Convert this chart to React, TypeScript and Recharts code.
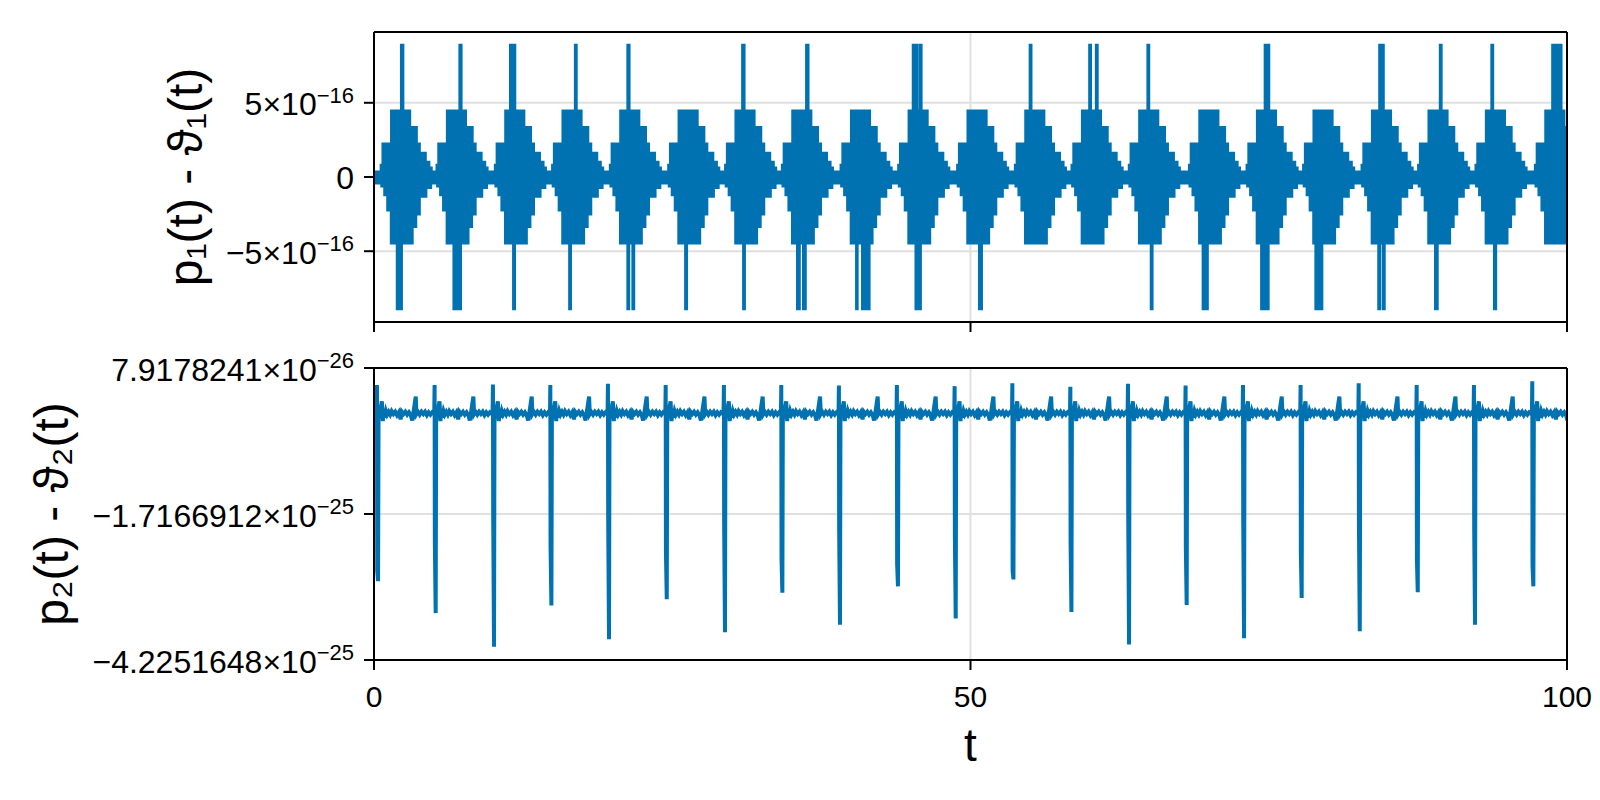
import { Area, CartesianGrid, ComposedChart, Label, Line, XAxis, YAxis } from "recharts"

const FONT = "'Liberation Sans', Arial, sans-serif"
const BLUE = "#0072B2"
const GRID = "#e0e0e0"

const tTicks = [0, 50, 100]

// top panel, values in units of 1e-16
const topTicks = [-5, 0, 5]
const topTickText = ["−5×10", "0", "5×10"]
const topTickExp = ["−16", "", "−16"]
const topDomain = [-9.77, 9.77]

// centre of every burst (t)
const burstCenters = [
  2.25, 6.93, 11.82, 16.62, 21.46, 26.35, 31.12, 35.88, 40.8, 45.63, 50.57,
  55.41, 60.16, 64.96, 70.0, 74.83, 79.57, 84.47, 89.21, 94.02, 99.0,
]
// envelope of one burst: [offset from centre, level]
const upperSteps = [
  [-1.65, 0.8], [-1.5, 2.22], [-0.78, 4.44], [0.74, 2.22], [0.98, 3.33],
  [1.3, 2.22], [1.55, 1.6], [2.05, 1.0], [2.35, 0.6], [2.55, 0.33],
]
const lowerSteps = [
  [-1.6, -0.6], [-1.35, -1.2], [-1.1, -2.22], [-0.8, -4.44], [0.95, -3.33],
  [1.25, -2.5], [1.55, -1.3], [2.1, -0.7], [2.5, -0.4],
]
const quietUpper = 0.33
const quietLower = -0.4
const spikeLevel = 8.88
const upSpikes = [
  [2.3, 2.42], [7.2, 7.3], [11.44, 11.5], [11.74, 11.8], [16.88, 16.95],
  [21.28, 21.38], [30.9, 31.02], [36.26, 36.38], [45.2, 45.26], [45.47, 45.53],
  [45.8, 45.86], [55.0, 55.07], [59.99, 60.06], [60.55, 60.62], [64.87, 64.94],
  [74.7, 75.0], [84.3, 84.6], [89.38, 89.45], [93.7, 93.77], [98.8, 99.5],
]
const downSpikes = [
  [1.95, 2.3], [6.7, 6.85], [7.05, 7.25], [11.7, 11.78], [16.4, 16.47],
  [21.28, 21.35], [21.7, 21.77], [26.12, 26.2], [30.98, 31.05], [35.5, 35.65],
  [36.0, 36.15], [40.45, 40.5], [40.95, 41.5], [45.43, 45.5], [45.75, 45.8],
  [50.75, 50.92], [65.15, 65.22], [69.5, 69.85], [74.4, 74.95], [78.95, 79.1],
  [79.3, 79.45], [84.22, 84.3], [84.6, 84.68], [88.98, 89.12], [93.92, 94.02],
]

// bottom panel, values in units of 1e-26
const bottomTicks = [-42.251648, -17.166912, 7.9178241]
const bottomTickText = ["−4.2251648×10", "−1.7166912×10", "7.9178241×10"]
const bottomTickExp = ["−25", "−25", "−26"]
const bottomDomain = [-42.251648, 7.9178241]

const kickTimes = [
  0.28, 5.11, 10.0, 14.81, 19.64, 24.48, 29.36, 34.17, 39.0, 43.86, 48.7,
  53.54, 58.4, 63.23, 68.06, 72.87, 77.7, 82.57, 87.43, 92.23, 97.12,
]
const kickTops = [
  5.0, 5.0, 5.1, 5.0, 5.2, 5.0, 5.0, 5.0, 4.9, 5.0, 4.8,
  5.3, 4.7, 5.2, 4.9, 5.0, 5.0, 5.3, 5.0, 5.0, 5.64,
]
const kickKinks = [
  -26.8, -21.8, -16.9, -22.9, -17.9, -23.7, -18.9, -24.9, -19.7, -25.8, -20.9,
  -26.9, -22.0, -17.1, -22.9, -18.3, -23.9, -19.2, -25.1, -19.7, -26.0,
]
const kickDepths = [
  -28.7, -34.2, -39.97, -32.9, -38.7, -31.8, -37.5, -30.7, -36.2, -29.6, -35.1,
  -28.4, -34.0, -39.6, -32.8, -38.5, -31.6, -37.3, -30.6, -36.2, -29.6,
]
// what follows each kick: [offset from kick, value]
const ringing = [
  [0.1, -1.0], [0.16, 0.6], [0.22, -0.5], [0.3, 1.3], [0.38, 2.2], [0.46, -1.2],
  [0.54, 0.9], [0.62, -0.6], [0.72, 0.5], [0.82, -0.1], [0.95, 0.4], [1.08, -0.1],
  [1.2, 0.5], [1.35, 0.0], [1.5, 0.4], [1.65, -0.2], [1.8, 0.3], [1.95, -0.9],
  [2.05, 0.4], [2.2, 0.0], [2.35, 0.4], [2.5, -0.1], [2.65, 0.3], [2.8, -0.2],
  [2.92, -1.1], [3.02, 0.2], [3.22, 3.0], [3.28, 0.0], [3.4, 0.4], [3.55, -0.1],
  [3.7, 0.4], [3.85, 0.0], [4.0, 0.4], [4.15, -0.2], [4.3, 0.3], [4.45, -0.1],
  [4.6, 0.3], [4.72, 0.1],
]

// ---- tables for recharts ----
const toEvents = (steps: number[][]) =>
  burstCenters.flatMap((c) => steps.map(([dt, v]) => [c + dt, v])).sort((a, b) => a[0] - b[0])
const upperEvents = toEvents(upperSteps)
const lowerEvents = toEvents(lowerSteps)
const levelAt = (events: number[][], t: number, start: number) => {
  let v = start
  for (const [et, ev] of events) {
    if (et <= t + 1e-9) v = ev
    else break
  }
  return v
}
const inSpike = (spikes: number[][], t: number) => spikes.some(([a, b]) => t >= a - 1e-9 && t < b - 1e-9)

const bandTimes = Array.from(
  new Set([
    0, 100,
    ...upperEvents.map((e) => e[0]),
    ...lowerEvents.map((e) => e[0]),
    ...upSpikes.flat(),
    ...downSpikes.flat(),
  ])
)
  .filter((t) => t >= 0 && t <= 100)
  .sort((a, b) => a - b)

const bandRows = bandTimes.map((t) => ({
  t,
  band: [
    inSpike(downSpikes, t) ? -spikeLevel : levelAt(lowerEvents, t, quietLower),
    inSpike(upSpikes, t) ? spikeLevel : levelAt(upperEvents, t, quietUpper),
  ],
}))

const lineRows: { t: number; v: number }[] = [{ t: 0, v: 0.2 }]
kickTimes.forEach((s, i) => {
  const next = i + 1 < kickTimes.length ? kickTimes[i + 1] : 101
  lineRows.push(
    { t: s - 0.06, v: 0.2 },
    { t: s - 0.03, v: kickTops[i] },
    { t: s - 0.01, v: kickKinks[i] },
    { t: s + 0.06, v: kickDepths[i] }
  )
  ringing.forEach(([dt, v]) => {
    if (s + dt < next - 0.08) lineRows.push({ t: s + dt, v })
  })
})

function ExpTick(props: any) {
  const { x, y, payload, values, texts, exps } = props
  let i = 0
  values.forEach((v: number, k: number) => {
    if (Math.abs(v - payload.value) < Math.abs(values[i] - payload.value)) i = k
  })
  const exp = exps[i]
  return (
    <text x={x} y={y} dy={exp ? 12.5 : 11.5} textAnchor="end" fontSize={32} fontFamily={FONT} fill="#000">
      {texts[i]}
      {exp ? (
        <tspan dy={-12.5} fontSize={22}>
          {exp}
        </tspan>
      ) : null}
    </text>
  )
}

const noLabel = () => <g />

const yTitle = (text: string, baseX: number) => (props: any) => {
  const { y, height } = props.viewBox
  const cy = y + height / 2
  return (
    <text
      x={baseX}
      y={cy}
      transform={`rotate(-90 ${baseX} ${cy})`}
      textAnchor="middle"
      fontSize={48}
      fontFamily={FONT}
      fill="#000"
    >
      {text}
    </text>
  )
}

const tTitle = (props: any) => {
  const { x, y, width } = props.viewBox
  return (
    <text x={x + width / 2} y={y + 101} textAnchor="middle" fontSize={46} fontFamily={FONT} fill="#000">
      t
    </text>
  )
}

const spine = { stroke: "#000", strokeWidth: 2 }

export default function App() {
  return (
    <div style={{ position: "absolute", left: 0, top: 0, width: 1600, height: 800, background: "#fff" }}>
      <div style={{ position: "absolute", left: 0, top: 0 }}>
        <ComposedChart width={1600} height={345} data={bandRows} margin={{ top: 31, right: 32, bottom: 0, left: 0 }}>
          <CartesianGrid stroke={GRID} strokeWidth={2} />
          <XAxis
            dataKey="t"
            type="number"
            domain={[0, 100]}
            ticks={tTicks}
            allowDataOverflow
            height={23}
            tick={noLabel}
            tickSize={10}
            tickLine={spine}
            axisLine={spine}
          />
          <XAxis xAxisId="frame" orientation="top" type="number" domain={[0, 100]} ticks={tTicks} height={1} tick={noLabel} tickLine={false} axisLine={spine} />
          <YAxis
            type="number"
            domain={topDomain}
            ticks={topTicks}
            allowDataOverflow
            width={374}
            tickSize={10}
            tickMargin={10}
            tickLine={spine}
            axisLine={spine}
            tick={(p: any) => <ExpTick {...p} values={topTicks} texts={topTickText} exps={topTickExp} />}
          >
            <Label content={yTitle("p₁(t) - ϑ₁(t)", 202)} />
          </YAxis>
          <YAxis yAxisId="frame" orientation="right" type="number" domain={topDomain} ticks={topTicks} width={1} tick={noLabel} tickLine={false} axisLine={spine} />
          <Area
            dataKey="band"
            type="stepAfter"
            stroke={BLUE}
            strokeWidth={3}
            fill={BLUE}
            fillOpacity={1}
            isAnimationActive={false}
          />
        </ComposedChart>
      </div>
      <div style={{ position: "absolute", left: 0, top: 345 }}>
        <ComposedChart width={1600} height={455} data={lineRows} margin={{ top: 22, right: 32, bottom: 0, left: 0 }}>
          <CartesianGrid stroke={GRID} strokeWidth={2} />
          <XAxis
            dataKey="t"
            type="number"
            domain={[0, 100]}
            ticks={tTicks}
            allowDataOverflow
            height={140}
            tickSize={10}
            tickMargin={16}
            tickLine={spine}
            axisLine={spine}
            tick={{ fontSize: 30, fill: "#000", fontFamily: FONT }}
          >
            <Label content={tTitle} />
          </XAxis>
          <XAxis xAxisId="frame" orientation="top" type="number" domain={[0, 100]} ticks={tTicks} height={1} tick={noLabel} tickLine={false} axisLine={spine} />
          <YAxis
            type="number"
            domain={bottomDomain}
            ticks={bottomTicks}
            allowDataOverflow
            width={374}
            tickSize={10}
            tickMargin={10}
            tickLine={spine}
            axisLine={spine}
            tick={(p: any) => <ExpTick {...p} values={bottomTicks} texts={bottomTickText} exps={bottomTickExp} />}
          >
            <Label content={yTitle("p₂(t) - ϑ₂(t)", 68)} />
          </YAxis>
          <YAxis yAxisId="frame" orientation="right" type="number" domain={bottomDomain} ticks={bottomTicks} width={1} tick={noLabel} tickLine={false} axisLine={spine} />
          <Line dataKey="v" type="linear" stroke={BLUE} strokeWidth={4} dot={false} isAnimationActive={false} />
        </ComposedChart>
      </div>
    </div>
  )
}
